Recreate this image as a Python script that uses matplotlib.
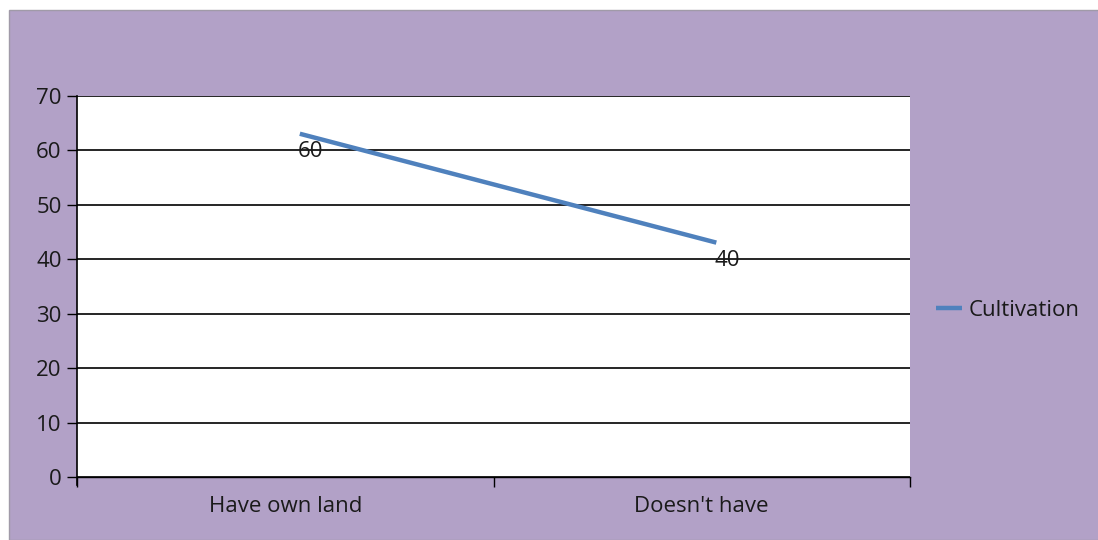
import matplotlib
matplotlib.use("Agg")
import matplotlib.pyplot as plt
import matplotlib.transforms as mtransforms
from matplotlib.patches import Rectangle

categories = ["Have own land", "Doesn't have"]
cultivation = [60, 40]
y_ticks = [0, 10, 20, 30, 40, 50, 60, 70]

purple = "#b2a1c7"
blue = "#4f81bd"
txt = "#1a1a1a"
fs = 16

plt.rcParams["font.family"] = ["Open Sans", "DejaVu Sans"]

fig = plt.figure(figsize=(10.98, 5.40), dpi=100)
fig.patch.set_facecolor("white")
# chart area background with a thin grey frame on top/left
bg = Rectangle((9 / 1098, 0), 1, (540 - 10) / 540, transform=fig.transFigure,
               facecolor=purple, edgecolor="#a09aa8", linewidth=1.0, zorder=-10)
fig.add_artist(bg)

ax = fig.add_axes([77 / 1098, 63 / 540, 833 / 1098, 381 / 540])
ax.set_facecolor("white")

x = [i + 0.5 for i in range(len(categories))]
# the series line sits a little up/right of its anchor, as the original renders it
shifted = mtransforms.offset_copy(ax.transData, fig=fig, x=10.5, y=12.0, units="points")
line, = ax.plot(x, cultivation, color=blue, linewidth=3.2, solid_capstyle="butt",
                transform=shifted, label="Cultivation", zorder=3)

for xi, v in zip(x, cultivation):
    ax.annotate(str(v), (xi, v), xytext=(18.5, -1), textcoords="offset points",
                ha="center", va="center", fontsize=fs, color=txt, zorder=4)

ax.set_xlim(0, len(categories))
ax.set_ylim(0, 70)
ax.set_yticks(y_ticks)
ax.set_yticklabels([str(t) for t in y_ticks])
ax.yaxis.grid(True, color="black", linewidth=1.2)
ax.set_axisbelow(True)

ax.set_xticks([0, 1, 2], minor=False)
ax.set_xticklabels([])
ax.set_xticks(x, minor=True)
ax.set_xticklabels(categories, minor=True)
ax.tick_params(axis="x", which="major", direction="out", length=7, width=1.0, color="black")
ax.tick_params(axis="x", which="minor", length=0, pad=14, labelsize=fs, labelcolor=txt)
ax.tick_params(axis="y", direction="out", length=7, width=1.0, color="black",
               pad=4, labelsize=fs, labelcolor=txt)

for side in ["top", "right"]:
    ax.spines[side].set_visible(False)
ax.spines["left"].set_color("black")
ax.spines["bottom"].set_color("black")
ax.spines["left"].set_linewidth(1.2)
ax.spines["bottom"].set_linewidth(1.0)
ax.spines["left"].set_bounds(-1.5, 70)

leg = ax.legend(handles=[line], loc="center left", bbox_to_anchor=(936 / 1098, (540 - 310) / 540),
                bbox_transform=fig.transFigure, frameon=False, handlelength=1.15,
                handletextpad=0.3, borderpad=0, borderaxespad=0, fontsize=fs)
for t in leg.get_texts():
    t.set_color(txt)

fig.savefig("out.png", dpi=100, facecolor=fig.get_facecolor())
